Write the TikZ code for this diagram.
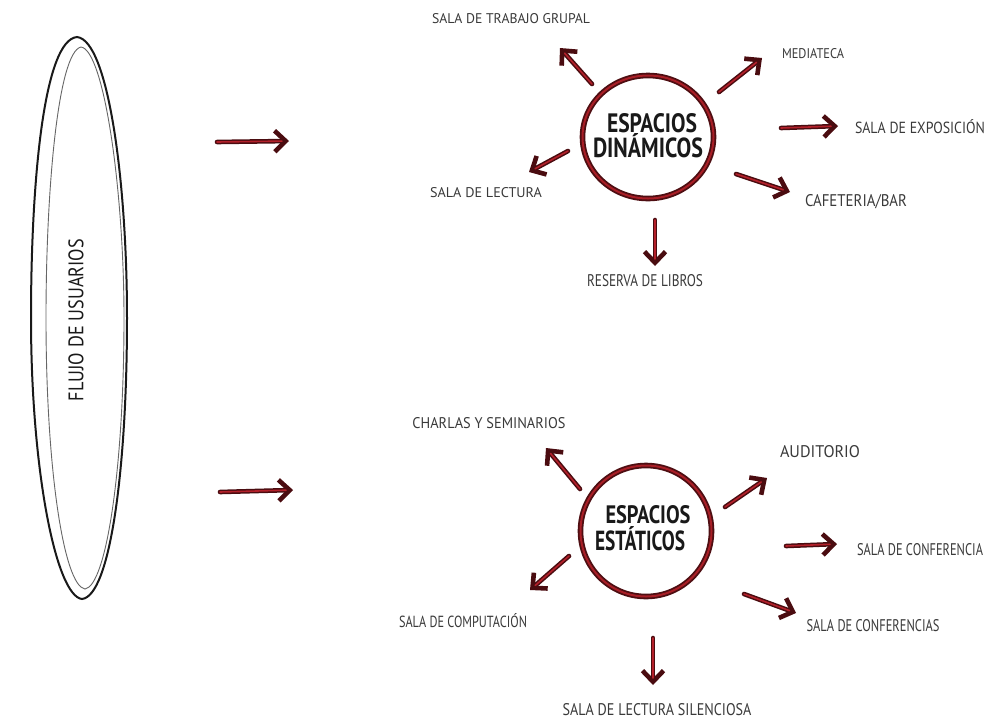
\documentclass[tikz,border=0pt]{standalone}
\usepackage{fontspec}
\usepackage{graphicx}
\setmainfont{PT Sans}
\usetikzlibrary{arrows.meta,shapes.geometric}
\definecolor{arrdark}{HTML}{4A0C10}
\definecolor{arrred}{HTML}{B3202A}
\definecolor{circdark}{HTML}{4E0E12}
\definecolor{circred}{HTML}{A81E26}
\definecolor{lblgray}{HTML}{3A3A3A}
\newcommand{\fitbox}[3]{\resizebox{#1pt}{#2pt}{#3}}
\newcommand{\arrowpair}[2]{%
  \draw[arr] (#1) -- (#2);
  \draw[arrcore] (#1) -- (#2);}
\tikzset{
  arr/.style={line width=4.6pt, draw=arrdark, line cap=round, line join=round,
    -{Straight Barb[length=11pt,width=21pt]}},
  arrcore/.style={line width=1.6pt, draw=arrred, line cap=round, shorten >=7pt},
  lbl/.style={text=lblgray, inner sep=0pt, anchor=base},
  big/.style={text=black!90, inner sep=0pt, anchor=base, font=\bfseries},
  hub/.style={ellipse, draw=circdark, double=circred, double distance=2pt,
    line width=1.8pt, inner sep=0pt},
}
\begin{document}
\begin{tikzpicture}[x=1pt,y=-1pt]
\useasboundingbox (0,0) rectangle (991,721);
\fill[white] (0,0) rectangle (991,721);

% flujo de usuarios
\draw[line width=2pt, black!90]
  (77,37) .. controls (44,40) and (31,180) .. (31,318)
  .. controls (31,470) and (56,596) .. (82,599)
  .. controls (110,596) and (127,470) .. (127,318)
  .. controls (127,180) and (108,40) .. (77,37) -- cycle;
\draw[line width=0.9pt, black!60]
  (81,47) .. controls (58,52) and (46,190) .. (46,318)
  .. controls (46,470) and (64,586) .. (85,589)
  .. controls (106,586) and (124,470) .. (124,318)
  .. controls (124,190) and (104,50) .. (81,47) -- cycle;
\node[anchor=center, rotate=90, inner sep=0pt, text=black!90] (flujo) at (76,320)
  {\fitbox{162}{15}{FLUJO DE USUARIOS}};

% left arrows
\coordinate (l1s) at (217,142); \coordinate (l1e) at (289,141);
\coordinate (l2s) at (220,492); \coordinate (l2e) at (293,490);
\arrowpair{l1s}{l1e}
\arrowpair{l2s}{l2e}

% ---------- espacios dinamicos ----------
\node[hub, minimum width=131pt, minimum height=123pt] (dyn) at (648,137) {};
\node[big] (dyn1) at (652,132) {\fitbox{90}{19}{ESPACIOS}};
\node[big] (dyn2) at (648,157) {\fitbox{110}{24}{DINÁMICOS}};

\node[lbl] (trabajo) at (511,23) {\fitbox{158}{10}{SALA DE TRABAJO GRUPAL}};
\node[lbl] (media) at (813,58) {\fitbox{62}{10}{MEDIATECA}};
\node[lbl] (expo) at (920,133) {\fitbox{130}{14}{SALA DE EXPOSICIÓN}};
\node[lbl] (cafe) at (856,206) {\fitbox{102}{12}{CAFETERIA/BAR}};
\node[lbl] (lectura) at (486,197) {\fitbox{112}{10}{SALA DE LECTURA}};
\node[lbl] (reserva) at (645,286) {\fitbox{116}{12}{RESERVA DE LIBROS}};

\coordinate (a1s) at (592,84);  \coordinate (a1e) at (560,48);
\coordinate (a2s) at (719,92);  \coordinate (a2e) at (762,58);
\coordinate (a3s) at (781,128); \coordinate (a3e) at (838,126);
\coordinate (a4s) at (736,174); \coordinate (a4e) at (790,192);
\coordinate (a5s) at (568,151); \coordinate (a5e) at (529,172);
\coordinate (a6s) at (655,220); \coordinate (a6e) at (655,266);
\arrowpair{a1s}{a1e}
\arrowpair{a2s}{a2e}
\arrowpair{a3s}{a3e}
\arrowpair{a4s}{a4e}
\arrowpair{a5s}{a5e}
\arrowpair{a6s}{a6e}

% ---------- espacios estaticos ----------
\node[hub, minimum width=131pt, minimum height=131pt] (sta) at (646,531) {};
\node[big] (sta1) at (648,523) {\fitbox{85}{18}{ESPACIOS}};
\node[big] (sta2) at (640,550) {\fitbox{90}{24}{ESTÁTICOS}};

\node[lbl] (charlas) at (489,428) {\fitbox{153}{11}{CHARLAS Y SEMINARIOS}};
\node[lbl] (audit) at (820,457) {\fitbox{80}{12}{AUDITORIO}};
\node[lbl] (conf1) at (920,555) {\fitbox{126}{12}{SALA DE CONFERENCIA}};
\node[lbl] (conf2) at (873,631) {\fitbox{133}{12}{SALA DE CONFERENCIAS}};
\node[lbl] (compu) at (463,627) {\fitbox{128}{14}{SALA DE COMPUTACIÓN}};
\node[lbl] (silen) at (657,715) {\fitbox{189}{12}{SALA DE LECTURA SILENCIOSA}};

\coordinate (b1s) at (580,489); \coordinate (b1e) at (546,448);
\coordinate (b2s) at (725,507); \coordinate (b2e) at (767,478);
\coordinate (b3s) at (786,546); \coordinate (b3e) at (837,544);
\coordinate (b4s) at (744,594); \coordinate (b4e) at (796,613);
\coordinate (b5s) at (569,556); \coordinate (b5e) at (530,590);
\coordinate (b6s) at (653,638); \coordinate (b6e) at (653,685);
\arrowpair{b1s}{b1e}
\arrowpair{b2s}{b2e}
\arrowpair{b3s}{b3e}
\arrowpair{b4s}{b4e}
\arrowpair{b5s}{b5e}
\arrowpair{b6s}{b6e}
\end{tikzpicture}
\end{document}
